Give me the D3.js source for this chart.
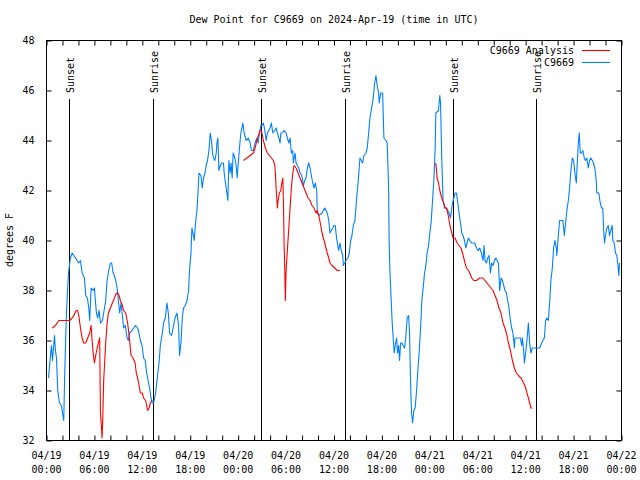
<!DOCTYPE html>
<html>
<head>
<meta charset="utf-8">
<script src="https://cdn.jsdelivr.net/npm/d3@7"></script>
<style>
  html, body { margin: 0; padding: 0; background: #fff; }
  svg { display: block; }
  text { font-family: "DejaVu Sans Mono", "Liberation Mono", monospace; font-size: 10px; fill: #000; }
</style>
</head>
<body>
<script>
// ---- data (hours after 2024-04-19 00:00 UTC) ----
const titleText = "Dew Point for C9669 on 2024-Apr-19 (time in UTC)";
const yLabelText = "degrees F";
const seriesNames = ["C9669 Analysis", "C9669"];
const yTickValues = [32, 34, 36, 38, 40, 42, 44, 46, 48];
const xLabelHours = [0, 6, 12, 18, 24, 30, 36, 42, 48, 54, 60, 66, 72];

const sunEventHours = [2.91, 13.41, 26.88, 37.44, 50.95, 61.31];
const sunEventLabels = ["Sunset", "Sunrise", "Sunset", "Sunrise", "Sunset", "Sunrise"];

const blueHours = [0.25,0.5,0.62,0.75,1.0,1.12,1.25,1.41,1.62,1.87,2.0,2.16,2.29,2.5,2.75,3.0,3.21,3.62,4.04,4.25,4.46,4.75,4.91,5.12,5.29,5.41,5.59,5.84,6.0,6.25,6.41,6.59,6.75,7.0,7.16,7.41,7.59,7.79,8.0,8.16,8.34,8.5,8.66,8.84,9.0,9.16,9.34,9.5,9.66,9.87,10.09,10.25,10.41,10.71,10.91,11.16,11.41,11.59,11.75,11.96,12.16,12.37,12.5,12.66,12.91,13.09,13.25,13.41,13.66,13.84,14.09,14.25,14.46,14.66,14.87,15.09,15.25,15.41,15.66,15.91,16.09,16.34,16.54,16.66,16.84,17.0,17.16,17.37,17.59,17.79,17.91,18.09,18.21,18.34,18.5,18.66,18.84,19.0,19.09,19.34,19.5,19.66,19.84,20.0,20.16,20.34,20.5,20.66,20.79,20.91,21.09,21.25,21.34,21.46,21.59,21.75,21.96,22.16,22.25,22.41,22.59,22.71,22.84,23.0,23.12,23.25,23.37,23.59,23.75,23.87,24.04,24.16,24.34,24.59,24.75,25.0,25.25,25.5,25.66,25.91,26.12,26.34,26.5,26.66,26.84,27.0,27.16,27.34,27.5,27.66,27.84,28.0,28.16,28.34,28.59,28.75,28.91,29.09,29.25,29.34,29.5,29.75,30.0,30.16,30.34,30.5,30.66,30.84,30.91,31.12,31.25,31.41,31.59,31.75,31.96,32.16,32.34,32.5,32.66,32.84,33.0,33.16,33.34,33.5,33.66,33.84,33.91,34.09,34.5,34.66,34.84,35.0,35.16,35.34,35.5,35.66,35.84,36.0,36.16,36.25,36.41,36.59,36.75,36.91,37.09,37.16,37.34,37.5,37.75,37.91,38.09,38.25,38.41,38.62,38.84,39.04,39.25,39.41,39.59,39.75,40.0,40.16,40.34,40.5,40.71,40.91,41.09,41.25,41.41,41.59,41.66,41.84,42.09,42.25,42.5,42.66,42.84,42.91,43.0,43.16,43.29,43.41,43.54,43.66,43.84,43.96,44.09,44.21,44.34,44.5,44.66,44.84,45.0,45.16,45.34,45.46,45.59,45.71,45.84,46.0,46.16,46.34,46.5,46.66,46.84,47.0,47.16,47.34,47.5,47.66,47.84,48.0,48.16,48.34,48.5,48.66,48.75,49.09,49.16,49.25,49.34,49.5,49.66,49.84,50.09,50.25,50.41,50.59,50.75,50.84,51.0,51.16,51.34,51.5,51.66,51.84,52.0,52.16,52.34,52.5,52.66,52.84,53.0,53.21,53.41,53.62,53.84,54.04,54.25,54.46,54.66,54.79,54.91,55.09,55.25,55.41,55.59,55.75,55.91,56.09,56.25,56.41,56.59,56.75,56.91,57.09,57.25,57.41,57.59,57.75,57.91,58.09,58.25,58.41,58.59,58.66,58.87,59.12,59.34,59.5,59.59,59.75,59.84,60.0,60.16,60.34,60.5,60.66,60.84,61.12,61.44,61.75,62.0,62.16,62.34,62.5,62.66,62.84,63.0,63.16,63.34,63.5,63.66,63.84,63.91,64.09,64.25,64.5,64.66,64.84,65.0,65.16,65.34,65.5,65.66,65.84,66.0,66.16,66.34,66.5,66.59,66.71,66.84,67.0,67.16,67.34,67.5,67.66,67.84,68.0,68.16,68.34,68.5,68.66,68.84,68.91,69.16,69.34,69.5,69.66,69.75,69.87,70.0,70.16,70.34,70.5,70.66,70.84,70.91,71.09,71.25,71.41,71.59,71.66,71.75];
const blueValues = [34.5,35.4,35.8,35.2,36.2,35.6,35.3,34.0,33.5,33.4,33.1,32.8,34.8,37.1,38.7,39.3,39.5,39.3,39.1,39.2,38.7,38.5,37.8,37.7,37.3,36.8,38.1,38.0,38.1,37.1,36.9,37.2,36.7,36.8,37.1,37.6,38.4,38.8,39.1,39.1,38.7,38.6,38.4,38.1,37.6,37.1,37.5,37.0,36.5,36.6,36.1,36.0,36.3,36.4,36.5,36.6,36.5,36.3,36.0,35.8,35.3,35.2,34.8,34.5,34.1,33.7,33.5,33.5,33.9,34.4,35.1,35.8,36.2,36.7,36.9,37.5,37.1,36.3,36.2,36.6,36.9,37.1,36.6,35.4,35.9,36.9,37.3,37.4,37.6,38.0,38.8,39.5,40.5,40.3,40.0,40.7,41.2,42.1,42.7,42.6,42.1,42.5,42.7,43.0,43.2,43.6,44.3,44.0,43.5,43.3,43.2,43.5,43.9,44.1,42.8,43.0,43.1,43.1,42.7,42.3,41.9,41.6,43.2,42.7,43.1,42.5,43.5,43.3,43.0,42.5,43.2,43.7,44.3,44.7,44.3,44.0,44.1,43.9,43.6,43.6,43.9,44.1,43.9,44.3,44.6,44.6,44.7,44.4,44.0,44.3,44.4,44.5,44.7,44.3,44.4,44.5,44.3,44.1,43.9,44.3,44.3,44.4,44.3,44.1,43.9,44.1,43.5,43.6,43.1,43.5,43.1,43.0,42.9,42.7,42.6,42.2,42.4,42.5,42.9,43.1,42.9,42.6,42.3,42.1,42.3,42.0,41.1,41.0,41.1,41.2,41.3,41.2,41.1,40.8,40.3,40.4,40.5,40.6,40.6,40.3,39.9,39.6,39.9,39.6,39.4,39.0,39.1,39.2,39.3,39.5,40.0,40.2,40.6,40.8,41.7,42.4,43.3,43.2,43.1,43.4,43.5,43.7,44.3,44.9,45.3,45.7,46.3,46.6,46.2,45.9,45.5,45.9,45.9,44.1,44.0,43.9,42.1,39.9,38.8,37.6,36.7,36.1,35.5,35.8,36.1,35.5,35.8,35.2,35.9,35.9,35.8,35.7,36.2,36.9,37.0,36.3,34.3,33.1,32.7,33.2,33.3,34.0,34.8,35.5,36.5,37.6,38.1,38.7,39.0,39.5,39.8,40.3,40.7,41.6,42.4,43.6,45.1,45.2,45.5,45.8,45.5,43.2,41.6,41.3,41.3,41.2,41.1,40.9,41.3,41.5,41.7,41.9,41.9,41.5,41.1,40.7,40.3,40.2,40.0,39.7,39.9,40.1,40.0,39.9,39.9,39.9,39.7,39.6,39.7,39.5,39.2,39.8,39.2,39.1,39.3,39.4,38.7,39.1,39.0,39.2,39.3,39.2,39.1,38.0,38.5,38.4,38.2,38.0,37.9,37.6,37.3,36.8,36.5,36.3,35.7,36.1,36.1,36.1,36.1,35.8,36.1,35.6,35.1,35.5,36.0,36.7,35.9,35.5,35.7,35.7,35.7,35.7,35.9,36.0,36.1,36.8,36.9,36.8,37.5,38.4,38.9,39.7,40.0,39.7,39.4,40.2,40.8,40.8,40.8,40.2,40.7,41.2,41.6,42.1,42.8,43.3,43.2,42.7,42.3,43.3,43.9,44.3,43.5,43.5,43.6,43.3,43.2,43.3,42.9,43.2,43.3,43.2,43.1,42.9,42.4,41.9,41.9,41.5,41.3,41.3,40.5,39.9,40.2,40.5,40.6,40.2,40.4,40.6,40.0,39.9,39.5,39.4,38.9,38.6,39.1];

// analysis series; null marks a gap in the record
const redHours = [0.71,1.12,1.54,2.16,2.91,3.21,3.41,3.71,3.91,4.09,4.25,4.46,4.66,4.91,5.16,5.41,5.59,5.71,5.84,6.0,6.16,6.34,6.5,6.66,6.75,6.87,6.96,7.04,7.16,7.41,7.59,7.75,8.0,8.25,8.5,8.75,8.91,9.09,9.25,9.5,9.66,9.91,10.16,10.41,10.59,10.84,11.09,11.25,11.41,11.59,11.75,12.0,12.16,12.41,12.66,12.84,13.0,13.25,
  18.0,
  24.66,25.09,25.5,25.91,26.12,26.34,26.54,26.75,26.91,27.16,27.41,27.66,27.91,28.16,28.41,28.59,28.66,28.75,28.84,28.91,29.0,29.16,29.34,29.46,29.59,29.66,29.75,29.84,29.91,30.0,30.16,30.34,30.5,30.66,30.84,31.0,31.25,31.5,31.75,32.0,32.25,32.5,32.75,33.0,33.25,33.5,33.75,33.91,34.16,34.34,34.5,34.66,34.84,35.0,35.16,35.34,35.5,35.75,36.09,36.41,36.75,
  42.0,
  48.75,48.91,49.09,49.25,49.41,49.59,49.75,49.91,50.09,50.25,50.41,50.59,50.75,50.91,51.16,51.41,51.66,51.91,52.09,52.25,52.41,52.59,52.84,53.0,53.25,53.5,53.84,54.25,54.66,54.91,55.16,55.41,55.66,55.91,56.16,56.41,56.66,56.91,57.16,57.41,57.66,57.84,58.09,58.34,58.59,58.84,59.09,59.41,59.75,60.0,60.16,60.34,60.5,60.66,60.84];
const redValues = [36.5,36.6,36.8,36.8,36.8,36.9,37.0,37.2,37.2,36.9,36.5,36.1,35.9,35.9,36.1,36.3,36.6,36.0,35.5,35.1,35.4,35.7,35.9,36.1,33.1,32.6,32.1,32.8,34.4,35.9,36.7,37.1,37.3,37.5,37.7,37.9,37.9,37.8,37.6,37.4,37.2,37.1,36.7,36.0,35.4,35.3,35.1,34.7,34.5,34.2,33.9,33.9,33.7,33.6,33.2,33.3,33.5,33.6,
  null,
  43.2,43.3,43.4,43.5,43.7,44.0,44.2,44.4,44.4,44.0,43.7,43.5,43.4,43.3,43.2,43.0,42.7,42.1,41.7,41.3,41.6,41.9,42.0,42.3,42.5,41.7,39.9,38.8,37.6,38.8,39.6,40.5,41.3,42.1,42.7,43.0,42.9,42.7,42.5,42.3,42.1,41.9,41.7,41.6,41.4,41.3,41.1,41.2,40.9,40.6,40.3,40.1,39.9,39.7,39.5,39.3,39.1,39.0,38.9,38.8,38.8,
  null,
  43.1,42.5,42.3,42.0,41.8,41.6,41.5,41.3,41.3,41.1,40.8,40.5,40.3,40.1,40.1,39.9,39.8,39.7,39.5,39.3,39.1,38.9,38.8,38.7,38.5,38.4,38.4,38.5,38.5,38.4,38.3,38.2,38.1,38.0,37.8,37.6,37.3,37.1,36.7,36.5,36.2,35.9,35.6,35.2,34.9,34.7,34.6,34.5,34.3,34.1,33.9,33.7,33.5,33.3,33.3];

// ---- drawing ----
const W = 640, H = 480;
const start = Date.UTC(2024, 3, 19, 0, 0);
const toDate = h => new Date(start + h * 3600e3);
const FONT = '"DejaVu Sans Mono", "Liberation Mono", monospace';
const RED = "#ff0000", BLUE = "#0080ff";

const svg = d3.select("body").append("svg").attr("width", W).attr("height", H);

const x = d3.scaleUtc().domain([toDate(0), toDate(72)]).range([46.5, 621.5]);
const y = d3.scaleLinear().domain([32, 48]).range([440.5, 40.5]);

// title
svg.append("text").attr("x", 334).attr("y", 23).attr("text-anchor", "middle").text(titleText);

// y label
svg.append("text").attr("transform", "translate(13,240) rotate(-90)")
  .attr("text-anchor", "middle").text(yLabelText);

const tickHours = d3.range(0, 73, 2);
const fmtDate = d3.utcFormat("%m/%d"), fmtTime = d3.utcFormat("%H:%M");

function styleAxis(g) {
  g.select(".domain").remove();
  g.attr("font-family", FONT).attr("font-size", 10);
  g.selectAll(".tick line").attr("stroke", "#000");
  g.selectAll(".tick text").attr("fill", "#000");
}

// bottom axis with two-line labels
svg.append("g").attr("transform", "translate(0,440.5)")
  .call(d3.axisBottom(x).tickValues(tickHours.map(toDate)).tickSize(-5).tickSizeOuter(0).tickFormat(""))
  .call(styleAxis);
const labelG = svg.append("g").attr("font-family", FONT).attr("font-size", 10);
xLabelHours.forEach(h => {
  const d = toDate(h);
  const t = labelG.append("text").attr("text-anchor", "middle");
  t.append("tspan").attr("x", x(d)).attr("y", 459).text(fmtDate(d));
  t.append("tspan").attr("x", x(d)).attr("y", 473).text(fmtTime(d));
});

// top mirror ticks
svg.append("g").attr("transform", "translate(0,40.5)")
  .call(d3.axisTop(x).tickValues(tickHours.map(toDate)).tickSize(-5).tickSizeOuter(0).tickFormat(""))
  .call(styleAxis);

// left axis
svg.append("g").attr("transform", "translate(46.5,0)")
  .call(d3.axisLeft(y).tickValues(yTickValues).tickSize(-5).tickSizeOuter(0).tickPadding(12).tickFormat(d3.format("d")))
  .call(styleAxis);
// right mirror
svg.append("g").attr("transform", "translate(621.5,0)")
  .call(d3.axisRight(y).tickValues(yTickValues).tickSize(-5).tickSizeOuter(0).tickFormat(""))
  .call(styleAxis);

// border
svg.append("rect").attr("x", 46.5).attr("y", 40.5).attr("width", 575).attr("height", 400)
  .attr("fill", "none").attr("stroke", "#000").attr("stroke-width", 1);

// sunrise / sunset markers
sunEventHours.forEach((h, i) => {
  const xp = Math.floor(x(toDate(h))) + 0.5;
  svg.append("line").attr("x1", xp).attr("x2", xp).attr("y1", 99).attr("y2", 440.5)
    .attr("stroke", "#000").attr("stroke-width", 1);
  svg.append("text").attr("transform", `translate(${xp + 4},93) rotate(-90)`)
    .attr("text-anchor", "start").text(sunEventLabels[i]);
});

// series
const line = d3.line().defined(d => d.v != null).x(d => x(toDate(d.h))).y(d => y(d.v));
const redData = redHours.map((h, i) => ({h, v: redValues[i]}));
const blueData = blueHours.map((h, i) => ({h, v: blueValues[i]}));

svg.append("path").datum(blueData).attr("d", line)
  .attr("fill", "none").attr("stroke", BLUE).attr("stroke-width", 1.1).attr("stroke-linejoin", "round");
svg.append("path").datum(redData).attr("d", line)
  .attr("fill", "none").attr("stroke", RED).attr("stroke-width", 1.1).attr("stroke-linejoin", "round");

// legend
const legend = [
  {name: seriesNames[0], color: RED, yy: 50.5},
  {name: seriesNames[1], color: BLUE, yy: 62.5}
];
legend.forEach(l => {
  svg.append("text").attr("x", 574).attr("y", l.yy + 3.5).attr("text-anchor", "end").text(l.name);
  svg.append("line").attr("x1", 582).attr("x2", 610).attr("y1", l.yy).attr("y2", l.yy)
    .attr("stroke", l.color).attr("stroke-width", 1.1);
});
</script>
</body>
</html>
